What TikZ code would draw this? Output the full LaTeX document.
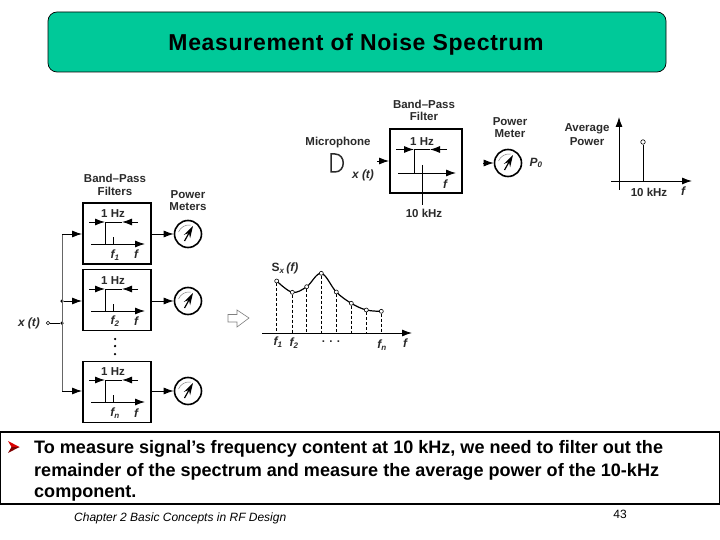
\documentclass[tikz,border=0pt]{standalone}
\usepackage{fontspec}
\setmainfont{Liberation Sans}
\newfontfamily\titlefont[LetterSpace=3]{Liberation Sans}
\usetikzlibrary{arrows.meta}
\definecolor{titlegreen}{HTML}{00C999}
\definecolor{inkgray}{HTML}{2A2A2A}
\tikzset{
  lbl/.style={inner sep=0pt, text=inkgray, font=\fontsize{11.5}{12}\selectfont\bfseries},
  var/.style={inner sep=0pt, text=inkgray, font=\fontsize{12}{12}\selectfont\bfseries\itshape},
  bpf/.style={draw=black, line width=1.9pt, minimum width=68pt, minimum height=61pt, inner sep=0pt},
  wire/.style={line width=0.9pt, black},
  sig/.style={line width=0.9pt, black, -{Latex[length=10pt,width=7pt]}},
  dim/.style={line width=0.9pt, black, -{Latex[length=10pt,width=7pt]}},
  junct/.style={circle, fill, inner sep=0pt, minimum size=3.5pt},
  port/.style={circle, draw, fill=white, line width=0.6pt, inner sep=0pt, minimum size=4.5pt},
  pm/.style={circle, draw=black, line width=1.6pt, inner sep=0pt, minimum size=27pt,
    path picture={
      \draw[gray, line width=0.5pt] (path picture bounding box.center) ++(-9.5,-2) to[bend left=35] ++(12,-7);
      \draw[line width=1.2pt, -{Stealth[length=12pt,width=7pt]}] (path picture bounding box.center) ++(-3.5,7) -- ++(8.5,-15);
    }},
  dashdrop/.style={densely dashed, line width=0.6pt, black},
  body/.style={inner sep=0pt, anchor=base west, font=\fontsize{18.05}{20}\selectfont\bfseries}
}
\begin{document}
\begin{tikzpicture}[x=1pt, y=-1pt]
\useasboundingbox (0,0) rectangle (720,540);
% title
\node[draw=black, fill=titlegreen, rounded corners=9pt, line width=0.7pt, minimum width=618pt, minimum height=60pt, inner sep=0pt] (title) at (357,42){};
\node[inner sep=0pt, font=\titlefont\fontsize{23}{24}\selectfont\bfseries] (titletext) at (356,44.5){Measurement of Noise Spectrum};

% microphone chain
\node[lbl] (miclbl) at (338,143){Microphone};
\draw[line width=1.5pt, inkgray] (331,154) -- (331,172) -- (335,172) .. controls (346,172) and (346,154) .. (335,154) -- cycle;
\node[var] (xt0) at (363,175){x (t)};
\node[bpf, minimum width=72pt, minimum height=64pt] (bpf0) at (426,161){};
\node[lbl] (bpf0a) at (424,104){Band{\textendash}Pass};
\node[lbl] (bpf0b) at (424,116){Filter};
\coordinate (in0) at (377,161);
\draw[sig] (in0) -- (bpf0);
\node[lbl] (hz0) at (422,142){1 Hz};
\coordinate (a0) at (396,149.5);
\coordinate (b0) at (414,149.5);
\coordinate (c0) at (430,149.5);
\coordinate (d0) at (447,149.5);
\coordinate (e0) at (414,173);
\coordinate (g0) at (398,173);
\coordinate (h0) at (456,173);
\coordinate (k0) at (422,165);
\coordinate (m0) at (422,205);
\draw[dim] (a0) -- (b0);
\draw[dim] (d0) -- (c0);
\draw[wire] (c0) -- (b0) -- (e0);
\draw[dim] (g0) -- (h0);
\draw[wire] (k0) -- (m0);
\node[var] (f0) at (445,184){f};
\node[lbl] (khz0) at (424,213){10 kHz};
\node[lbl] (pmlbla) at (510,122){Power};
\node[lbl] (pmlblb) at (510,134){Meter};
\node[pm] (pm0) at (508,163){};
\coordinate (out0) at (483,163);
\draw[sig] (out0) -- (pm0);
\node[var] (p0) at (536,163){P\textsubscript{0}};

% average power plot
\node[lbl] (avga) at (587,129){Average};
\node[lbl] (avgb) at (587,142){Power};
\coordinate (ya) at (619,190);
\coordinate (yb) at (619,117);
\coordinate (xa) at (611,181);
\coordinate (xb) at (692,181);
\coordinate (st) at (643,181);
\node[port] (stem) at (643,142){};
\draw[sig] (ya) -- (yb);
\draw[sig] (xa) -- (xb);
\draw[wire] (st) -- (stem);
\node[lbl] (khz1) at (649,192){10 kHz};
\node[var] (f1) at (683,191){f};

% filter bank
\node[lbl] (bnka) at (115,178){Band{\textendash}Pass};
\node[lbl] (bnkb) at (115,191){Filters};
\node[lbl] (mtra) at (188,195){Power};
\node[lbl] (mtrb) at (188,207){Meters};
\node[bpf] (bpf1) at (117,233.5){};
\node[bpf] (bpf2) at (117,300){};
\node[bpf] (bpf3) at (117,392){};
\node[pm] (pm1) at (188,234){};
\node[pm] (pm2) at (188,301){};
\node[pm] (pm3) at (188,391){};
\draw[sig] (bpf1.east |- pm1) -- (pm1);
\draw[sig] (bpf2.east |- pm2) -- (pm2);
\draw[sig] (bpf3.east |- pm3) -- (pm3);
\node[port, minimum size=3.5pt] (xin) at (48,323){};
\node[var] (xr) at (29,323){x (t)};
\node[junct] (j1) at (62,323){};
\node[junct] (j2) at (62,301){};
\coordinate (t1) at (62,234);
\coordinate (t3) at (62,391);
\draw[wire] (xin) -- (j1);
\draw[line width=1pt, black!60] (t1) -- (t3);
\draw[sig] (t1) -- (bpf1.west |- t1);
\draw[sig] (j2) -- (bpf2.west |- j2);
\draw[sig] (t3) -- (bpf3.west |- t3);

% filter 1
\node[lbl] (hz1) at (113,214){1 Hz};
\coordinate (a1) at (89,222);
\coordinate (b1) at (105,222);
\coordinate (c1) at (122,222);
\coordinate (d1) at (138,222);
\coordinate (e1) at (105,244);
\coordinate (g1) at (91,244);
\coordinate (h1) at (145,244);
\coordinate (k1) at (113,237);
\coordinate (m1) at (113,244);
\draw[dim] (a1) -- (b1);
\draw[dim] (d1) -- (c1);
\draw[wire] (c1) -- (b1) -- (e1);
\draw[dim] (g1) -- (h1);
\draw[wire] (k1) -- (m1);
\node[var] (fa1) at (115,255){f\textsubscript{1}};
\node[var] (fb1) at (136,254){f};

% filter 2
\node[lbl] (hz2) at (113,281){1 Hz};
\coordinate (a2) at (89,289);
\coordinate (b2) at (105,289);
\coordinate (c2) at (122,289);
\coordinate (d2) at (138,289);
\coordinate (e2) at (105,311);
\coordinate (g2) at (91,311);
\coordinate (h2) at (145,311);
\coordinate (k2) at (113,304);
\coordinate (m2) at (113,311);
\draw[dim] (a2) -- (b2);
\draw[dim] (d2) -- (c2);
\draw[wire] (c2) -- (b2) -- (e2);
\draw[dim] (g2) -- (h2);
\draw[wire] (k2) -- (m2);
\node[var] (fa2) at (115,321){f\textsubscript{2}};
\node[var] (fb2) at (136,321){f};

% filter n
\node[lbl] (hz3) at (113,372){1 Hz};
\coordinate (a3) at (89,380);
\coordinate (b3) at (105,380);
\coordinate (c3) at (122,380);
\coordinate (d3) at (138,380);
\coordinate (e3) at (105,402);
\coordinate (g3) at (91,402);
\coordinate (h3) at (145,402);
\coordinate (k3) at (113,395);
\coordinate (m3) at (113,402);
\draw[dim] (a3) -- (b3);
\draw[dim] (d3) -- (c3);
\draw[wire] (c3) -- (b3) -- (e3);
\draw[dim] (g3) -- (h3);
\draw[wire] (k3) -- (m3);
\node[var] (fa3) at (115,413){f\textsubscript{n}};
\node[var] (fb3) at (136,413){f};
\node[junct, minimum size=2.5pt] (dot1) at (115,339){};
\node[junct, minimum size=2.5pt] (dot2) at (115,346){};
\node[junct, minimum size=2.5pt] (dot3) at (115,354){};

% hollow arrow
\draw[gray, line width=0.6pt, fill=white] (228,314.5) -- (237,314.5) -- (237,310) -- (249,318) -- (237,327) -- (237,322) -- (228,322) -- cycle;

% spectrum
\coordinate (pt1) at (276.7,281);
\coordinate (pt2) at (292.3,292.3);
\coordinate (pt3) at (306.7,286.7);
\coordinate (pt4) at (321.3,273.3);
\coordinate (pt5) at (336.3,292);
\coordinate (pt6) at (351.3,303.3);
\coordinate (pt7) at (366.3,310);
\coordinate (pt8) at (381.3,311.3);
\draw[line width=1.2pt] plot[smooth, tension=0.6] coordinates {(pt1) (pt2) (pt3) (pt4) (pt5) (pt6) (pt7) (pt8)};
\node[port, minimum size=4pt] (s1) at (pt1){};
\node[port, minimum size=4pt] (s2) at (pt2){};
\node[port, minimum size=4pt] (s3) at (pt3){};
\node[port, minimum size=4pt] (s4) at (pt4){};
\node[port, minimum size=4pt] (s5) at (pt5){};
\node[port, minimum size=4pt] (s6) at (pt6){};
\node[port, minimum size=4pt] (s7) at (pt7){};
\node[port, minimum size=4pt] (s8) at (pt8){};
\coordinate (ax1) at (262,333);
\coordinate (ax2) at (412,333);
\draw[sig] (ax1) -- (ax2);
\draw[dashdrop] (s1) -- (s1 |- ax1);
\draw[dashdrop] (s2) -- (s2 |- ax1);
\draw[dashdrop] (s3) -- (s3 |- ax1);
\draw[dashdrop] (s4) -- (s4 |- ax1);
\draw[dashdrop] (s5) -- (s5 |- ax1);
\draw[dashdrop] (s6) -- (s6 |- ax1);
\draw[dashdrop] (s7) -- (s7 |- ax1);
\draw[dashdrop] (s8) -- (s8 |- ax1);
\node[var] (sxf) at (285,268.5){{\upshape S}\textsubscript{x}\,(f)};
\node[var] (ft1) at (278,342){f\textsubscript{1}};
\node[var] (ft2) at (294,343){f\textsubscript{2}};
\node[lbl] (ftd) at (331,342){. . .};
\node[var] (ftn) at (382,345){f\textsubscript{n}};
\node[var] (ftt) at (405,343){f};

% text box
\node[draw=black, fill=white, line width=1.6pt, minimum width=719pt, minimum height=72pt, inner sep=0pt] (notebox) at (360,468){};
\fill[red!85!black] (8,441) -- (19.5,447) -- (11.5,447) -- cycle;
\fill[red!50!black] (8,453) -- (19.5,447) -- (11.5,447) -- cycle;
\node[body] (l1) at (34,453){To measure signal’s frequency content at 10 kHz, we need to filter out the};
\node[body] (l2) at (34,476){remainder of the spectrum and measure the average power of the 10-kHz};
\node[body] (l3) at (34,497.5){component.};
\node[inner sep=0pt, anchor=west, font=\fontsize{12}{14}\selectfont\itshape] (foot) at (74,518.5){Chapter 2 Basic Concepts in RF Design};
\node[inner sep=0pt, font=\fontsize{12}{14}\selectfont] (pg) at (620,514){43};
\end{tikzpicture}
\end{document}
